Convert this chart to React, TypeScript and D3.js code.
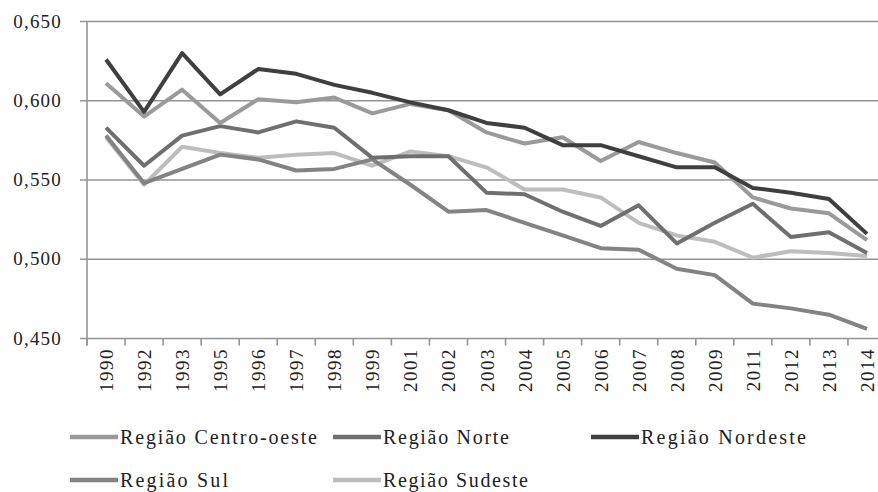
import * as d3 from "d3";

const years = ["1990", "1992", "1993", "1995", "1996", "1997", "1998", "1999", "2001", "2002", "2003", "2004", "2005", "2006", "2007", "2008", "2009", "2011", "2012", "2013", "2014"];

const centroOeste = [0.611, 0.590, 0.607, 0.586, 0.601, 0.599, 0.602, 0.592, 0.598, 0.594, 0.580, 0.573, 0.577, 0.562, 0.574, 0.567, 0.561, 0.539, 0.532, 0.529, 0.512];
const norte = [0.583, 0.559, 0.578, 0.584, 0.580, 0.587, 0.583, 0.564, 0.565, 0.565, 0.542, 0.541, 0.530, 0.521, 0.534, 0.510, 0.523, 0.535, 0.514, 0.517, 0.504];
const nordeste = [0.626, 0.593, 0.630, 0.604, 0.620, 0.617, 0.610, 0.605, 0.599, 0.594, 0.586, 0.583, 0.572, 0.572, 0.565, 0.558, 0.558, 0.545, 0.542, 0.538, 0.516];
const sul = [0.578, 0.548, 0.557, 0.566, 0.563, 0.556, 0.557, 0.563, 0.547, 0.530, 0.531, 0.523, 0.515, 0.507, 0.506, 0.494, 0.490, 0.472, 0.469, 0.465, 0.456];
const sudeste = [0.577, 0.547, 0.571, 0.567, 0.564, 0.566, 0.567, 0.559, 0.568, 0.565, 0.558, 0.544, 0.544, 0.539, 0.523, 0.515, 0.511, 0.501, 0.505, 0.504, 0.502];

const yTicks = [0.45, 0.5, 0.55, 0.6, 0.65];

const series = [
  { name: "Região Centro-oeste", values: centroOeste, color: "#9a9a9a" },
  { name: "Região Norte", values: norte, color: "#6f6f6f" },
  { name: "Região Nordeste", values: nordeste, color: "#3f3f3f" },
  { name: "Região Sul", values: sul, color: "#838383" },
  { name: "Região Sudeste", values: sudeste, color: "#bdbdbd" },
];

// draw order so the darker lines sit on top
const drawOrder = [4, 3, 1, 0, 2];

const legendPos = [
  { x: 70, y: 437, w: 197 },
  { x: 333, y: 437, w: 126 },
  { x: 591, y: 437, w: 165 },
  { x: 70, y: 480, w: 108 },
  { x: 333, y: 480, w: 145 },
];

const fmt = (v: number) => d3.format(".3f")(v).replace(".", ",");

export default function App() {
  const width = 878;
  const height = 492;
  const left = 87;
  const right = 886;
  const top = 21.5;
  const bottom = 338.5;

  const x = d3.scaleBand().domain(years).range([left, right]);
  const y = d3.scaleLinear().domain([0.45, 0.65]).range([bottom, top]);

  const line = d3
    .line<number>()
    .x((_, i) => (x(years[i]) as number) + x.bandwidth() / 2)
    .y((d) => y(d));

  const fontFamily = "'Liberation Serif', 'Times New Roman', serif";

  return (
    <div style={{ position: "fixed", left: 0, top: 0 }}>
      <svg width={width} height={height} style={{ display: "block", background: "#fff" }}>
        {/* gridlines */}
        {yTicks.map((t) => (
          <g key={t}>
            <line x1={80} x2={width} y1={y(t)} y2={y(t)} stroke="#949494" strokeWidth={1.6} />
            <text
              x={62}
              y={y(t) + 6}
              textAnchor="end"
              fontFamily={fontFamily}
              fontSize={19}
              letterSpacing={1.2}
              fill="#222"
            >
              {fmt(t)}
            </text>
          </g>
        ))}
        {/* y axis */}
        <line x1={left} x2={left} y1={top} y2={bottom + 7} stroke="#949494" strokeWidth={1.6} />
        {/* x ticks */}
        {years.map((yr) => (
          <line
            key={"t" + yr}
            x1={x(yr) as number}
            x2={x(yr) as number}
            y1={bottom}
            y2={bottom + 7}
            stroke="#949494"
            strokeWidth={1.6}
          />
        ))}
        {years.map((yr) => {
          const cx = (x(yr) as number) + x.bandwidth() / 2;
          return (
            <text
              key={"l" + yr}
              transform={`translate(${cx + 7},${348}) rotate(-90)`}
              textAnchor="end"
              fontFamily={fontFamily}
              fontSize={19}
              letterSpacing={1.5}
              fill="#222"
            >
              {yr}
            </text>
          );
        })}
        {/* lines */}
        {drawOrder.map((i) => (
          <path
            key={series[i].name}
            d={line(series[i].values) || ""}
            fill="none"
            stroke={series[i].color}
            strokeWidth={4}
            strokeLinejoin="round"
          />
        ))}
        {/* legend */}
        {series.map((s, i) => {
          const p = legendPos[i];
          return (
            <g key={"lg" + s.name}>
              <line x1={p.x} x2={p.x + 48} y1={p.y} y2={p.y} stroke={s.color} strokeWidth={4.5} />
              <text
                x={p.x + 50}
                y={p.y + 7}
                fontFamily={fontFamily}
                fontSize={20}
                textLength={p.w}
                lengthAdjust="spacing"
                fill="#222"
              >
                {s.name}
              </text>
            </g>
          );
        })}
      </svg>
    </div>
  );
}
